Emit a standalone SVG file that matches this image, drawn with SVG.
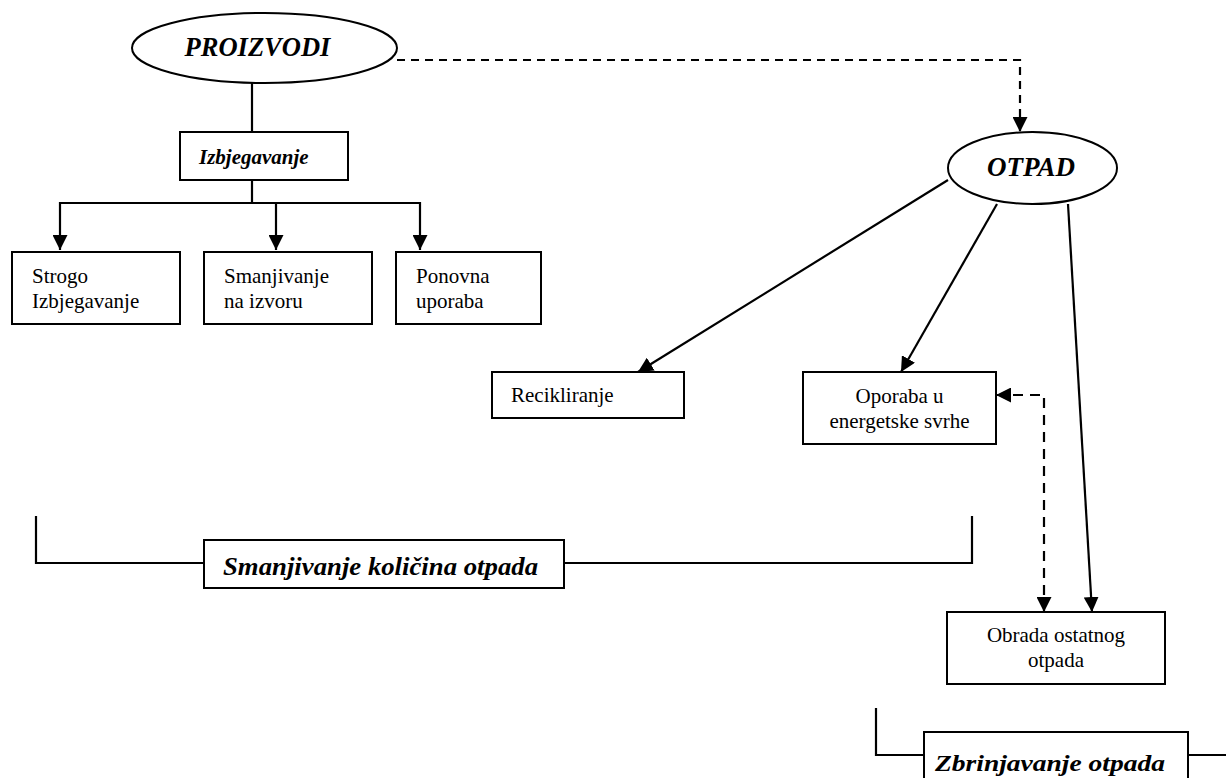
<svg xmlns="http://www.w3.org/2000/svg" width="1226" height="778" viewBox="0 0 1226 778">
<style>
.box{fill:#fff;stroke:#000;stroke-width:2}
.ell{fill:#fff;stroke:#000;stroke-width:2}
.ln{fill:none;stroke:#000;stroke-width:2.2}
.dash{fill:none;stroke:#000;stroke-width:2.2;stroke-dasharray:8 6}
.dash2{fill:none;stroke:#000;stroke-width:2.2;stroke-dasharray:10 7}
.t{font-family:"Liberation Serif","Times New Roman",serif;font-size:21px;fill:#000}
.tb{font-family:"Liberation Serif","Times New Roman",serif;font-weight:bold;font-style:italic;fill:#000}
</style>
<defs>
<marker id="ah" markerUnits="userSpaceOnUse" markerWidth="15" markerHeight="15" viewBox="0 0 15 15" refX="15" refY="7.5" orient="auto-start-reverse">
<path d="M0,0 L15,7.5 L0,15 Z" fill="#000"/>
</marker>
<clipPath id="clipS"><rect x="205" y="541" width="358" height="41"/></clipPath>
</defs>
<g id="connectors">
<path class="ln" d="M252,83 V132"/>
<path class="ln" d="M252,180 V203"/>
<path class="ln" d="M60,250 V203 H420 V250" marker-start="url(#ah)" marker-end="url(#ah)"/>
<path class="ln" d="M276,203 V250" marker-end="url(#ah)"/>
<path class="dash" d="M397,60 H1020 V132" marker-end="url(#ah)"/>
<path class="ln" d="M948,180 L638,372" marker-end="url(#ah)"/>
<path class="ln" d="M997,204 L901,372" marker-end="url(#ah)"/>
<path class="ln" d="M1068,204 L1092,612" marker-end="url(#ah)"/>
<path class="dash2" d="M996,395 H1044 V612" marker-start="url(#ah)" marker-end="url(#ah)"/>
</g>
<g id="proizvodi">
<ellipse class="ell" cx="264.5" cy="48" rx="132.5" ry="35"/>
<text class="tb" x="257.5" y="56" font-size="26.5" text-anchor="middle">PROIZVODI</text>
</g>
<g id="izbjegavanje">
<rect class="box" x="180" y="132" width="168" height="48"/>
<text class="tb" x="199" y="164" font-size="21">Izbjegavanje</text>
</g>
<g id="strogo">
<rect class="box" x="12" y="252" width="168" height="72"/>
<text class="t" x="32" y="283">Strogo</text>
<text class="t" x="32" y="308">Izbjegavanje</text>
</g>
<g id="smanjivanje-izvor">
<rect class="box" x="204" y="252" width="168" height="72"/>
<text class="t" x="224" y="283">Smanjivanje</text>
<text class="t" x="224" y="308">na izvoru</text>
</g>
<g id="ponovna">
<rect class="box" x="396" y="252" width="145" height="72"/>
<text class="t" x="416" y="283">Ponovna</text>
<text class="t" x="416" y="308">uporaba</text>
</g>
<g id="otpad">
<ellipse class="ell" cx="1032.5" cy="168" rx="84.5" ry="36"/>
<text class="tb" x="1031" y="176" font-size="27" text-anchor="middle">OTPAD</text>
</g>
<g id="recikliranje">
<rect class="box" x="492" y="372" width="192" height="46"/>
<text class="t" x="511" y="402">Recikliranje</text>
</g>
<g id="oporaba">
<rect class="box" x="803" y="372" width="193" height="72"/>
<text class="t" x="899.5" y="403" text-anchor="middle">Oporaba u</text>
<text class="t" x="899.5" y="428" text-anchor="middle">energetske svrhe</text>
</g>
<g id="obrada">
<rect class="box" x="947" y="612" width="218" height="72"/>
<text class="t" x="1056" y="642" text-anchor="middle">Obrada ostatnog</text>
<text class="t" x="1056" y="667" text-anchor="middle">otpada</text>
</g>
<g id="smanjivanje-kolicina">
<path class="ln" d="M36,516 V563 H204 M564,563 H972 V516"/>
<rect class="box" x="204" y="540" width="360" height="48"/>
<text class="tb" x="223" y="575" font-size="26" textLength="315" lengthAdjust="spacingAndGlyphs" clip-path="url(#clipS)">Smanjivanje količina otpada</text>
</g>
<g id="zbrinjavanje">
<path class="ln" d="M876,708 V755 H924 M1188,755 H1226"/>
<rect class="box" x="924" y="732" width="264" height="60"/>
<text class="tb" x="935" y="771" font-size="24" textLength="230" lengthAdjust="spacingAndGlyphs">Zbrinjavanje otpada</text>
</g>
</svg>
